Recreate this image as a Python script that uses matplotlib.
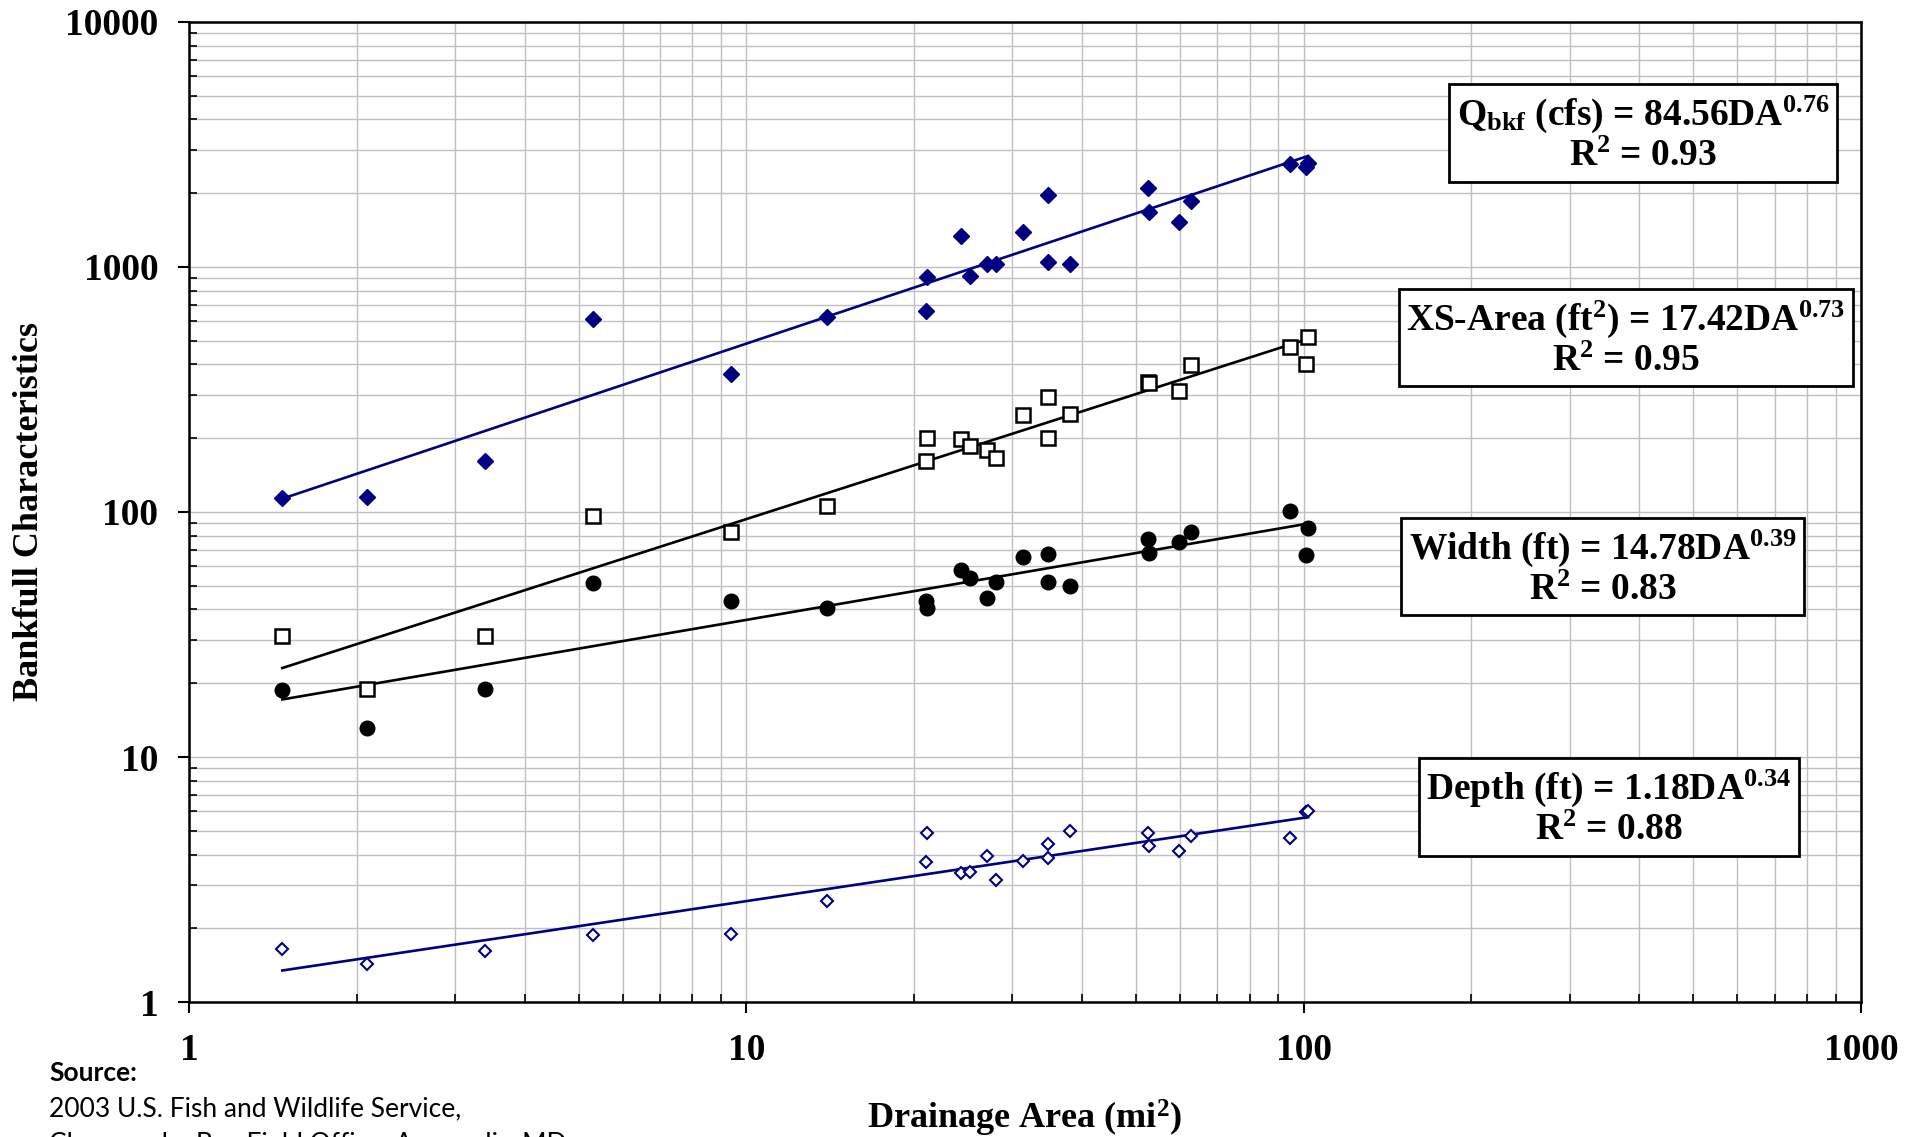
import numpy
from matplotlib import pyplot as plt
from matplotlib.ticker import FixedLocator, NullFormatter

plt.rcParams['font.family'] = ['Liberation Serif', 'DejaVu Serif']
plt.rcParams['mathtext.fontset'] = 'custom'
plt.rcParams['mathtext.rm'] = 'Liberation Serif:bold'
plt.rcParams['mathtext.it'] = 'Liberation Serif:bold'
plt.rcParams['mathtext.bf'] = 'Liberation Serif:bold'

# drainage area of each surveyed reach (mi^2)
drainage_area = [1.47, 2.09, 3.40, 5.31, 9.40, 13.98, 21.0, 21.1, 24.3, 25.2, 27.0, 28.0,
                 31.3, 34.8, 34.8, 38.0, 52.6, 52.8, 59.8, 62.8, 94.3, 101.0, 101.8]

discharge = [114, 115, 161, 613, 366, 627, 663, 912, 1338, 915, 1028, 1028,
             1394, 1968, 1045, 1028, 2101, 1677, 1531, 1865, 2625, 2567, 2666]
xs_area = [31.3, 19.0, 31.1, 96.6, 82.7, 105.6, 162, 201, 198, 186, 179, 166,
           249, 295, 201, 250, 340, 335, 313, 398, 473, 401, 519]
width = [18.8, 13.1, 19.0, 51.1, 43.4, 40.4, 43.4, 40.4, 58.0, 53.6, 44.7, 51.9,
         65.7, 67.2, 51.9, 49.9, 77.6, 67.8, 75.6, 83.1, 101, 66.8, 85.8]
depth = [1.65, 1.43, 1.615, 1.87, 1.90, 2.59, 3.73, 4.88, 3.37, 3.40, 3.96, 3.15,
         3.76, 4.40, 3.86, 5.00, 4.91, 4.35, 4.15, 4.76, 4.66, 5.95, 6.02]

# regression coefficients: y = a * DA^b, with R^2
fits = {
    'discharge': (84.56, 0.76, 0.93),
    'xs_area': (17.42, 0.73, 0.95),
    'width': (14.78, 0.39, 0.83),
    'depth': (1.18, 0.34, 0.88),
}

x_ticks = [1, 10, 100, 1000]
y_ticks = [1, 10, 100, 1000, 10000]

navy = '#000080'

fig = plt.figure(figsize=(19.21, 11.37), dpi=100)
ax = fig.add_axes([0.0984, 0.1187, 0.8704, 0.862])
ax.set_xscale('log')
ax.set_yscale('log')
ax.set_xlim(1, 1000)
ax.set_ylim(1, 10000)

da = numpy.array(drainage_area)
x_fit = numpy.array([da.min(), da.max()])

series = [
    ('discharge', discharge, dict(marker='D', ms=8.5, mfc=navy, mec=navy, mew=1), navy),
    ('xs_area', xs_area, dict(marker='s', ms=9.5, mfc='white', mec='black', mew=1.8), 'black'),
    ('width', width, dict(marker='o', ms=10.5, mfc='black', mec='black', mew=1), 'black'),
    ('depth', depth, dict(marker='D', ms=6.5, mfc='white', mec=navy, mew=1.5), navy),
]

for name, values, style, color in series:
    a, b, r2 = fits[name]
    ax.plot(x_fit, a * x_fit ** b, color=color, lw=1.9, zorder=3)
    ax.plot(drainage_area, values, ls='none', zorder=4, **style)

ax.xaxis.set_major_locator(FixedLocator(x_ticks))
ax.yaxis.set_major_locator(FixedLocator(y_ticks))
ax.set_xticklabels([str(t) for t in x_ticks])
ax.set_yticklabels([str(t) for t in y_ticks])
minor = [m * 10 ** e for e in range(0, 4) for m in range(2, 10)]
ax.xaxis.set_minor_locator(FixedLocator(minor))
ax.yaxis.set_minor_locator(FixedLocator(minor))
ax.xaxis.set_minor_formatter(NullFormatter())
ax.yaxis.set_minor_formatter(NullFormatter())

ax.grid(True, which='both', color='#c0c0c0', lw=1.0, zorder=0)
ax.set_axisbelow(True)
ax.tick_params(which='major', direction='out', length=8, width=1.5, labelsize=27, pad=14)
ax.tick_params(which='minor', direction='in', length=6, width=1.2)
for lab in ax.get_xticklabels() + ax.get_yticklabels():
    lab.set_fontweight('bold')
for sp in ax.spines.values():
    sp.set_linewidth(1.8)

ax.set_ylabel('Bankfull Characteristics', fontsize=26, fontweight='bold', labelpad=14)
ax.set_xlabel('Drainage Area (mi$^2$)', fontsize=26, fontweight='bold', labelpad=22)

box = dict(boxstyle='square,pad=0.2', fc='white', ec='black', lw=2)
labels = [
    ('discharge', 'Q$_{bkf}$ (cfs) = 84.56DA$^{0.76}$', 0.8696, 0.8856),
    ('xs_area', 'XS-Area (ft$^2$) = 17.42DA$^{0.73}$', 0.8593, 0.6769),
    ('width', 'Width (ft) = 14.78DA$^{0.39}$', 0.8454, 0.4431),
    ('depth', 'Depth (ft) = 1.18DA$^{0.34}$', 0.8491, 0.1981),
]
for name, eq, tx, ty in labels:
    r2 = fits[name][2]
    ax.text(tx, ty, f'{eq}\nR$^2$ = {r2:.2f}', transform=ax.transAxes,
            ha='center', va='center', multialignment='center', fontsize=27,
            fontweight='bold', linespacing=1.15, bbox=box, zorder=6)

fig.text(0.0255, 0.056, 'Source:', fontsize=19, fontweight='bold', family='Lato', va='center')
fig.text(0.0255, 0.0245, '2003 U.S. Fish and Wildlife Service,', fontsize=19,
         family='Lato', va='center')
fig.text(0.0255, -0.007, 'Chesapeake Bay Field Office, Annapolis, MD', fontsize=19,
         family='Lato', va='center')

fig.savefig('out.png', dpi=100)
